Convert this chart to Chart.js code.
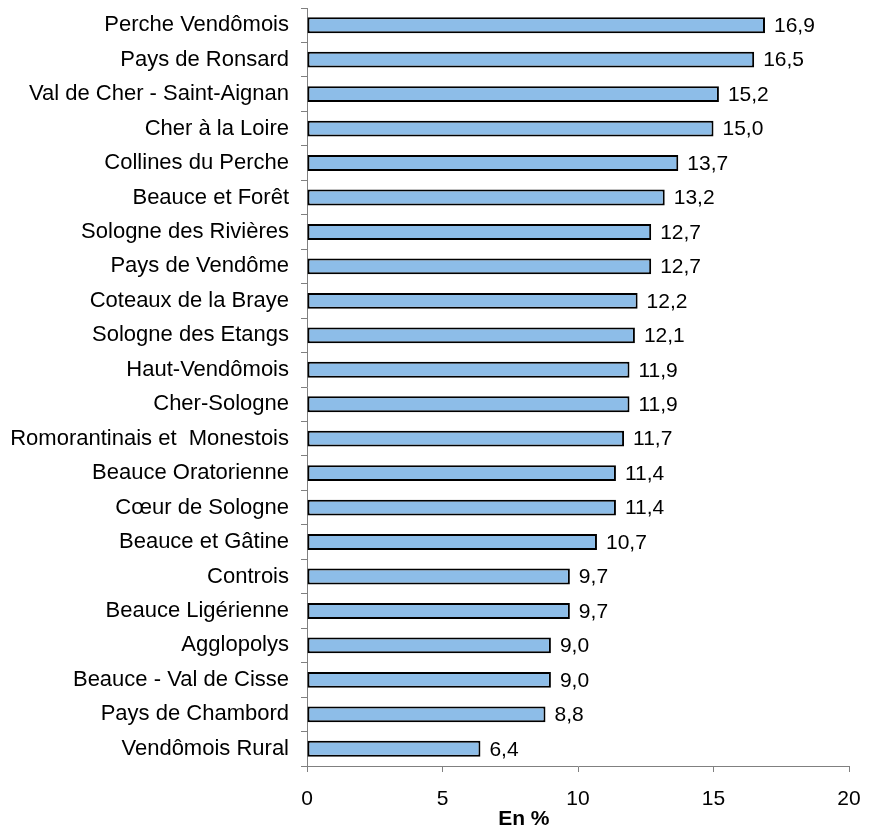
<!DOCTYPE html>
<html>
<head>
<meta charset="utf-8">
<script src="https://cdn.jsdelivr.net/npm/chart.js"></script>
<style>
  html, body { margin: 0; padding: 0; background: #fff; }
  #wrap { width: 875px; height: 827px; }
</style>
</head>
<body>
<div id="wrap"><canvas id="chart"></canvas></div>
<script>
const categories = [
  'Perche Vendômois', 'Pays de Ronsard', 'Val de Cher - Saint-Aignan', 'Cher à la Loire',
  'Collines du Perche', 'Beauce et Forêt', 'Sologne des Rivières', 'Pays de Vendôme',
  'Coteaux de la Braye', 'Sologne des Etangs', 'Haut-Vendômois', 'Cher-Sologne',
  'Romorantinais et  Monestois', 'Beauce Oratorienne', 'Cœur de Sologne', 'Beauce et Gâtine',
  'Controis', 'Beauce Ligérienne', 'Agglopolys', 'Beauce - Val de Cisse',
  'Pays de Chambord', 'Vendômois Rural'
];
const values = [16.9, 16.5, 15.2, 15.0, 13.7, 13.2, 12.7, 12.7, 12.2, 12.1, 11.9, 11.9,
  11.7, 11.4, 11.4, 10.7, 9.7, 9.7, 9.0, 9.0, 8.8, 6.4];
const xTicks = [0, 5, 10, 15, 20];
const axisTitle = 'En %';

const FONT = 'Liberation Sans, Arial, sans-serif';
const FS = 21;

// values at the end of each bar, comma decimal
const valueLabels = {
  id: 'valueLabels',
  afterDatasetsDraw(chart) {
    const ctx = chart.ctx;
    const meta = chart.getDatasetMeta(0);
    ctx.save();
    ctx.font = FS + 'px ' + FONT;
    ctx.fillStyle = '#000';
    ctx.textBaseline = 'middle';
    ctx.textAlign = 'left';
    meta.data.forEach((bar, i) => {
      ctx.fillText(values[i].toFixed(1).replace('.', ','), bar.x + 9, bar.y + 1);
    });
    ctx.restore();
  }
};

// axis title sits left of the plot centre
const xTitle = {
  id: 'xTitle',
  afterDraw(chart) {
    const ctx = chart.ctx;
    const a = chart.chartArea;
    ctx.save();
    ctx.font = 'bold ' + FS + 'px ' + FONT;
    ctx.fillStyle = '#000';
    ctx.textAlign = 'center';
    ctx.textBaseline = 'middle';
    ctx.fillText(axisTitle, a.left + (a.right - a.left) * 0.40, 819);
    ctx.restore();
  }
};

new Chart(document.getElementById('chart'), {
  type: 'bar',
  data: {
    labels: categories,
    datasets: [{
      data: values,
      backgroundColor: '#8dbde8',
      borderColor: '#000',
      borderWidth: 2,
      borderSkipped: false,
      categoryPercentage: 1,
      barPercentage: 0.46
    }]
  },
  options: {
    indexAxis: 'y',
    responsive: true,
    maintainAspectRatio: false,
    animation: false,
    layout: { padding: { top: 8, right: 26, left: 0, bottom: 0 } },
    plugins: { legend: { display: false }, tooltip: { enabled: false } },
    scales: {
      x: {
        min: 0,
        max: 20,
        afterBuildTicks: (s) => { s.ticks = xTicks.map(v => ({ value: v })); },
        afterFit: (s) => { s.height = 61; s.paddingLeft = 0; s.paddingRight = 0; },
        grid: { drawOnChartArea: false, color: '#808080', tickLength: 6 },
        border: { color: '#808080', width: 1 },
        ticks: { color: '#000', font: { family: FONT, size: FS }, padding: 15 }
      },
      y: {
        afterFit: (s) => { s.width = 307; s.paddingTop = 0; s.paddingBottom = 0; },
        grid: { drawOnChartArea: false, color: '#808080', tickLength: 6, offset: true },
        border: { color: '#808080', width: 1 },
        ticks: { color: '#000', font: { family: FONT, size: 22 }, padding: 12, autoSkip: false }
      }
    }
  },
  plugins: [valueLabels, xTitle]
});
</script>
</body>
</html>
